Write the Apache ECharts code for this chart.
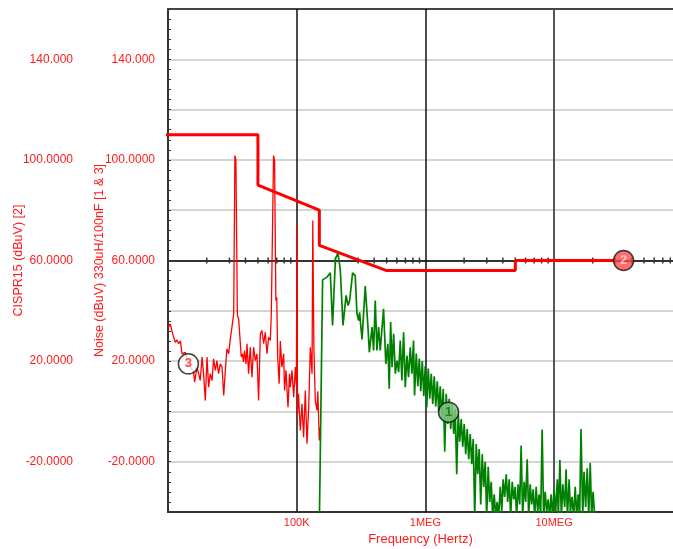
<!DOCTYPE html>
<html>
<head>
<meta charset="utf-8">
<script src="https://cdn.jsdelivr.net/npm/echarts@6/dist/echarts.min.js"></script>
<style>
  html, body { margin: 0; padding: 0; background: #fff; }
  #main { width: 673px; height: 549px; }
</style>
</head>
<body>
<div id="main"></div>
<script>
// x axis decades and their labels
var decades = [1e5, 1e6, 1e7];
var decadeNames = ['100K', '1MEG', '10MEG'];
// minor ticks drawn on the 60 dB line (2..9 in every decade)
var tickDecades = [1e4, 1e5, 1e6, 1e7];
var tickMults = [2, 3, 4, 5, 6, 7, 8, 9];

// y tick labels (both left axes)
var yLabelValues = [140, 100, 60, 20, -20];
var yLabelTexts = ['140.000', '100.0000', '60.0000', '20.0000', '-20.0000'];

// CISPR15 limit [2]  (Hz, dBuV)
var cisprLimit = [
	[9e3, 110], [50e3, 110], [50e3, 90], [150e3, 80], [150e3, 66],
	[500e3, 56], [5e6, 56], [5e6, 60], [30e6, 60]
];

// Noise trace [3] (red), Hz / dBuV
var noiseRed = [
	[10.0e3,33],[10.4e3,34.8],[11.05e3,29.5],[11.4e3,27.5],[11.75e3,28.4],[12.1e3,26.9],[12.5e3,28],
	[12.85e3,22.9],[13.6e3,23.5],[14.4e3,19],[15.2e3,17],[15.8e3,15.6],[16.1e3,11.6],[16.8e3,17.6],
	[17.3e3,15],[17.8e3,12.3],[18.4e3,21.6],[18.9e3,15],[19.5e3,4.3],[20.1e3,21.6],[20.7e3,9.6],
	[21.3e3,15],[22.0e3,12.3],[22.6e3,20.9],[23.3e3,16.3],[24.0e3,20.2],[24.7e3,15],[25.5e3,18.9],
	[26.3e3,17.6],[27.1e3,6.3],[27.9e3,16.3],[28.7e3,24.9],[29.6e3,22.9],[30.5e3,28.9],[31.4e3,33.5],
	[32.4e3,38.8],[33.1e3,101.7],[33.7e3,100],[34.6e3,38],[35.4e3,36.8],[36.5e3,36.1],[37.1e3,21.6],
	[37.9e3,22.9],[38.6e3,19.6],[39.3e3,24.2],[40.4e3,18.9],[41.1e3,26.9],[42.3e3,15],[43.6e3,25.5],
	[44.9e3,13.6],[46.3e3,25.5],[47.7e3,20.2],[49.1e3,22.9],[50.6e3,4.3],[52.2e3,30.9],[53.7e3,32.2],
	[55.4e3,26.9],[57.0e3,31.5],[58.8e3,22.9],[60.5e3,29.5],[62.4e3,28.2],[63.5e3,38.8],[65.1e3,38.8],
	[66.1e3,101.7],[67.3e3,99.8],[68.9e3,44.1],[70.0e3,45.4],[71.2e3,21.6],[73.1e3,11],[74.6e3,28],
	[76.8e3,17.6],[79.2e3,22.9],[80.5e3,8.3],[82.6e3,16.3],[85.6e3,1.7],[88.0e3,15],[89.2e3,9.6],
	[91.9e3,16.3],[94.7e3,5.6],[97.6e3,17.6],[99.5e3,10],[100.4e3,73.9],[101.5e3,-1],[103.3e3,7],
	[106.7e3,-7.6],[109.9e3,3],[113.2e3,-10.3],[116.7e3,8.3],[120.3e3,-12.9],[124e3,1.7],[127.6e3,25.5],
	[131.6e3,15],[133.4e3,75.9],[136e3,25.5],[139.5e3,4.3],[143.8e3,0.4],[146e3,8],[149.8e3,-11.6],
	[152.6e3,-6.3]
];

// Noise trace [1] (green), Hz / dBuV
var noiseGreen = [
	[150e3,-45],[159e3,52.3],[172e3,53.4],[182.5e3,55.1],[190e3,34.2],[200e3,60.7],[209e3,62.9],
	[218e3,56.7],[229e3,34.2],[242e3,46.1],[251e3,42.1],[258e3,44.1],[272e3,55.1],[285e3,54],
	[294e3,38.8],[303e3,36.1],[308e3,39.4],[322e3,28.6],[341e3,49.8],[358e3,33.5],[367e3,23.5],
	[385e3,33.5],[396e3,24.2],[408e3,44.1],[420e3,24.2],[433e3,33.5],[446e3,24.2],[473e3,40.8],
	[493e3,18.9],[511e3,26.9],[524e3,9],[537e3,35.5],[551e3,17.6],[567e3,30.9],[584e3,15],
	[602e3,20.2],[620e3,15.6],[638e3,28.2],[657e3,12.3],[677e3,31.5],[698e3,9.6],[719e3,22.2],
	[740e3,13.6],[763e3,25.5],[786e3,15],[809e3,28.2],[824e3,6.3],
	[850e3,23],[873e3,10],[897e3,21],[921e3,8],[946e3,20],[972e3,6],[998e3,18],[1.025e6,1.7],
	[1.053e6,17],[1.082e6,5],[1.111e6,15],[1.141e6,3],[1.172e6,14],[1.204e6,2],[1.237e6,12],
	[1.270e6,0],[1.305e6,10],[1.340e6,-3],[1.377e6,9],[1.414e6,-16],[1.452e6,7],[1.492e6,-5],
	[1.532e6,5],[1.574e6,-7],[1.617e6,3],[1.661e6,-9],[1.706e6,1],[1.752e6,-25],[1.800e6,-1],
	[1.849e6,-12],[1.899e6,-3],[1.951e6,-14],[2.004e6,-5],[2.058e6,-17],[2.114e6,-7],[2.172e6,-19],
	[2.231e6,-9],[2.291e6,-21],[2.354e6,-11],[2.418e6,-42],[2.484e6,-13],[2.551e6,-25],[2.620e6,-15],
	[2.692e6,-37],[2.765e6,-17],[2.840e6,-30],[2.917e6,-20],[2.996e6,-42],[3.078e6,-22],[3.162e6,-36],
	[3.248e6,-28],[3.336e6,-42],[3.427e6,-33],[3.520e6,-42],
	[3.61e6,-36],[3.71e6,-42],[3.82e6,-30],[3.92e6,-40],[4.02e6,-27],[4.13e6,-34],[4.25e6,-25],
	[4.36e6,-36],[4.48e6,-27],[4.60e6,-42],[4.73e6,-28],[4.86e6,-35],[4.99e6,-30],[5.12e6,-42],
	[5.26e6,-29],[5.41e6,-37],[5.55e6,-13.6],[5.70e6,-42],[5.86e6,-28],[6.02e6,-36],[6.18e6,-19],
	[6.35e6,-42],[6.52e6,-29],[6.70e6,-37],[6.88e6,-31],[7.07e6,-42],[7.26e6,-30],[7.46e6,-40],
	[7.66e6,-33],[7.87e6,-42],[8.08e6,-7.2],[8.30e6,-42],[8.53e6,-32],[8.76e6,-40],[9.00e6,-35],
	[9.24e6,-42],[9.49e6,-33],[9.75e6,-42],[10.0e6,-31],[10.3e6,-40],[10.6e6,-27],[10.8e6,-42],
	[11.1e6,-19.3],[11.4e6,-42],[11.7e6,-29],[12.1e6,-38],[12.4e6,-23],[12.7e6,-42],[13.1e6,-27],
	[13.4e6,-40],[13.8e6,-34],[14.2e6,-42],[14.6e6,-30],[15.0e6,-42],[15.4e6,-33],[15.8e6,-42],
	[16.2e6,-7],[16.7e6,-42],[17.1e6,-24],[17.6e6,-38],[18.1e6,-22.6],[18.6e6,-42],[19.1e6,-20.5],
	[19.6e6,-42],[20.1e6,-32],[20.7e6,-42]
];

// trace markers (Hz, dBuV) and their numbers
var markerPos = [[1.514e6, -0.3], [34.7e6, 60], [14.4e3, 18.9]];
var markerIds = ['1', '2', '3'];

var RED = '#ff1a1a';
var FONT = "'Liberation Sans', Arial, sans-serif";
var markerFill = ['#86c986', '#ff4a4a', '#ffffff'];
var markerText = ['#1f6b1f', '#ffd6d6', '#ff1a1a'];

var minorTicks = [];
tickDecades.forEach(function(d) {
	tickMults.forEach(function(m) { minorTicks.push([d * m, 60]); });
});

function yLabel(v) {
	var i = yLabelValues.indexOf(Math.round(v));
	return i < 0 ? '' : yLabelTexts[i];
}

var myChart = echarts.init(document.getElementById('main'));
var option = {
	animation: false,
	textStyle: { fontFamily: FONT },
	grid: { left: 168, right: 0, top: 9, bottom: 37, outerBoundsMode: 'none' },
	xAxis: [{
		type: 'log',
		logBase: 10,
		min: 1e4,
		max: 8.4e7,
		axisLine: { onZero: false, lineStyle: { color: '#333', width: 2 } },
		axisTick: { show: false },
		splitLine: { show: false },
		axisLabel: {
			color: RED, fontSize: 11, margin: 5,
			formatter: function(v) {
				var e = Math.log10(v);
				if (Math.abs(e - Math.round(e)) > 1e-6) return '';
				var i = decades.indexOf(Math.pow(10, Math.round(e)));
				return i < 0 ? '' : decadeNames[i];
			}
		},
		name: 'Frequency (Hertz)',
		nameLocation: 'middle',
		nameGap: 21,
		nameMoveOverlap: false,
		nameTextStyle: { color: RED, fontSize: 13 }
	}, {
		type: 'log',
		position: 'top',
		min: 1e4,
		max: 8.4e7,
		axisLine: { onZero: false, lineStyle: { color: '#444', width: 2 } },
		axisTick: { show: false },
		axisLabel: { show: false },
		splitLine: { show: false }
	}],
	yAxis: [{
		type: 'value',
		min: -40, max: 160, interval: 20,
		position: 'left',
		axisLine: { show: true, onZero: false, lineStyle: { color: '#333', width: 2 } },
		axisTick: { show: true, inside: true, length: 3, lineStyle: { color: '#333' } },
		minorTick: { show: true, splitNumber: 5, length: 3, lineStyle: { color: '#333' } },
		splitLine: { show: true, lineStyle: { color: '#c3c7c3', width: 1.5 } },
		axisLabel: { color: RED, fontSize: 12, margin: 13, formatter: yLabel },
		name: 'Noise (dBuV) 330uH/100nF [1 & 3]',
		nameLocation: 'middle',
		nameGap: 62,
		nameMoveOverlap: false,
		nameTextStyle: { color: RED, fontSize: 12.5 }
	}, {
		type: 'value',
		min: -40, max: 160, interval: 20,
		position: 'left',
		offset: 87,
		axisLine: { show: false, onZero: false },
		axisTick: { show: false },
		splitLine: { show: false },
		axisLabel: { color: RED, fontSize: 12, margin: 8, formatter: yLabel },
		name: 'CISPR15 (dBuV) [2]',
		nameLocation: 'middle',
		nameGap: 56,
		nameMoveOverlap: false,
		nameTextStyle: { color: RED, fontSize: 12.5 }
	}],
	series: [{
		name: 'Noise [3]',
		type: 'line',
		data: noiseRed,
		showSymbol: false,
		lineStyle: { color: '#ff0000', width: 1.3 },
		z: 3
	}, {
		name: 'Noise [1]',
		type: 'line',
		data: noiseGreen,
		showSymbol: false,
		lineStyle: { color: '#008000', width: 1.7 },
		z: 3,
		markLine: {
			silent: true,
			symbol: 'none',
			label: { show: false },
			z: 2,
			data: [{ yAxis: 60, lineStyle: { color: '#333', width: 2, type: 'solid' } }].concat(
				decades.map(function(d, i) {
					return { xAxis: d, lineStyle: { color: i === 2 ? '#555' : '#111', width: i === 2 ? 2 : 1.5, type: 'solid' } };
				})
			)
		}
	}, {
		name: 'CISPR15 [2]',
		type: 'line',
		yAxisIndex: 1,
		data: cisprLimit,
		showSymbol: false,
		lineStyle: { color: '#ff0000', width: 3 },
		z: 4
	}, {
		name: 'ticks',
		type: 'custom',
		data: minorTicks,
		silent: true,
		z: 2,
		renderItem: function(params, api) {
			var p = api.coord([api.value(0), api.value(1)]);
			return {
				type: 'line',
				shape: { x1: p[0], y1: p[1] - 3, x2: p[0], y2: p[1] + 3 },
				style: { stroke: '#333', lineWidth: 1.5 }
			};
		}
	}, {
		name: 'markers',
		type: 'scatter',
		symbol: 'circle',
		symbolSize: 20,
		z: 6,
		data: markerPos.map(function(p, i) {
			return {
				value: p,
				itemStyle: { color: markerFill[i], borderColor: '#111', borderWidth: 1.5 },
				label: { show: true, position: 'inside', formatter: markerIds[i], color: markerText[i], fontWeight: 'bold', fontSize: 13 }
			};
		})
	}]
};
myChart.setOption(option, true);
window.onresize = function() { myChart.resize(); };
</script>
</body>
</html>
